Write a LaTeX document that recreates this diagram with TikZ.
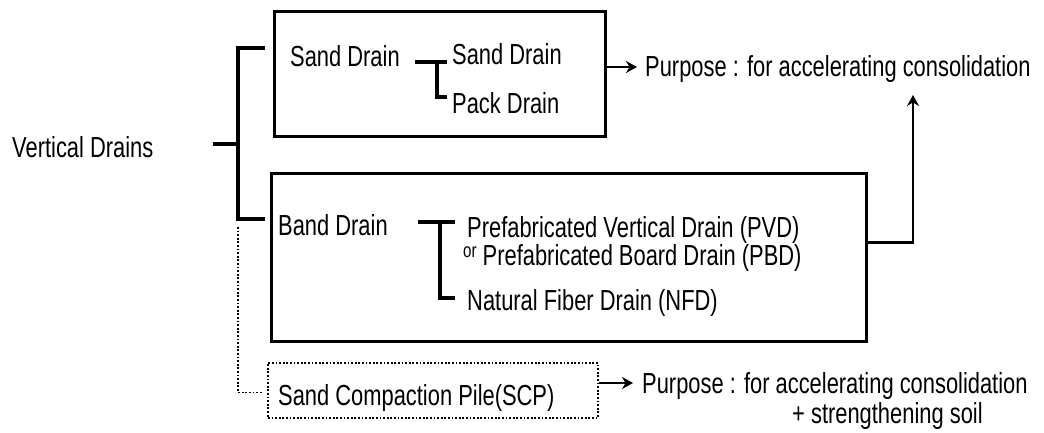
\documentclass[tikz,border=0pt]{standalone}
\usepackage{fontspec}
\setmainfont{Liberation Sans}[FakeStretch=0.755]
\usetikzlibrary{arrows.meta}

\begin{document}
\begin{tikzpicture}[x=1pt, y=1pt, font=\fontsize{29}{32}\selectfont, >={Stealth[length=11pt,width=12pt]},
  txt/.style={inner sep=0pt, anchor=base west},
  frame/.style={draw, line width=3.2pt, inner sep=0pt, anchor=north west},
  branch/.style={line width=3.2pt},
  link/.style={->, line width=1.8pt},
  dots/.style={line width=1.8pt, dash pattern=on 1.8pt off 1.8pt}]
  \useasboundingbox (0,0) rectangle (1044,432);
  \node[frame, minimum width=331pt, minimum height=125pt] (sandbox) at (273,422) {};
  \node[frame, minimum width=595pt, minimum height=168pt] (bandbox) at (270,260) {};
  \node[frame, dots, minimum width=330pt, minimum height=55pt] (scpbox) at (267,70) {};

  \node[txt] (vd) at (12,275) {Vertical Drains};
  \node[txt] (sand) at (290,365) {Sand Drain};
  \node[txt] (sandsub) at (452,367) {Sand Drain};
  \node[txt] (pack) at ([yshift=-48pt]sandsub.base west) {Pack Drain};
  \node[txt] (purpose1) at (645,355) {Purpose : for accelerating consolidation};
  \node[txt] (band) at (278,197) {Band Drain};
  \node[txt] (pvd) at (467,195) {Prefabricated Vertical Drain (PVD)};
  \node[txt] (pbd) at ([shift={(-4pt,-28pt)}]pvd.base west) {\raisebox{8pt}{\fontsize{20}{20}\selectfont or} Prefabricated Board Drain (PBD)};
  \node[txt] (nfd) at (467,122) {Natural Fiber Drain (NFD)};
  \node[txt] (scp) at (278,27) {Sand Compaction Pile(SCP)};
  \node[txt] (purpose2) at (642,39) {Purpose : for accelerating consolidation};
  \node[txt] (soil) at (792,9) {+ strengthening soil};

  \coordinate (vdend) at (213,288);
  \coordinate (jtop) at (238,384);
  \coordinate (jbot) at (238,213);
  \draw[branch] (vdend) -- (vdend -| jtop);
  \draw[branch] ([xshift=27pt]jtop) -- (jtop) -- (jbot) -- ([xshift=27pt]jbot);
  \draw[dots] ([yshift=-8pt]jbot) |- ([shift={(-5pt,-2pt)}]scpbox.west);

  \draw[branch] ([shift={(-37pt,3pt)}]sandsub.base west) -- ([shift={(-5pt,3pt)}]sandsub.base west);
  \draw[branch] ([shift={(-15pt,3pt)}]sandsub.base west) |- ([shift={(-5pt,16pt)}]pack.base west);
  \draw[branch] ([shift={(-49pt,15pt)}]pvd.base west) -- ([shift={(-12pt,15pt)}]pvd.base west);
  \draw[branch] ([shift={(-27pt,15pt)}]pvd.base west) |- ([shift={(-12pt,12pt)}]nfd.base west);

  \coordinate (a1) at ([shift={(-8pt,10pt)}]purpose1.base west);
  \draw[link] (sandbox.east |- a1) -- (a1);
  \coordinate (a3) at ([shift={(-9pt,10pt)}]purpose2.base west);
  \draw[link] (scpbox.east |- a3) -- (a3);
  \coordinate (a2) at (913,337);
  \draw[link, line width=2.8pt] ([yshift=15pt]bandbox.east) -| (a2);
\end{tikzpicture}
\end{document}
